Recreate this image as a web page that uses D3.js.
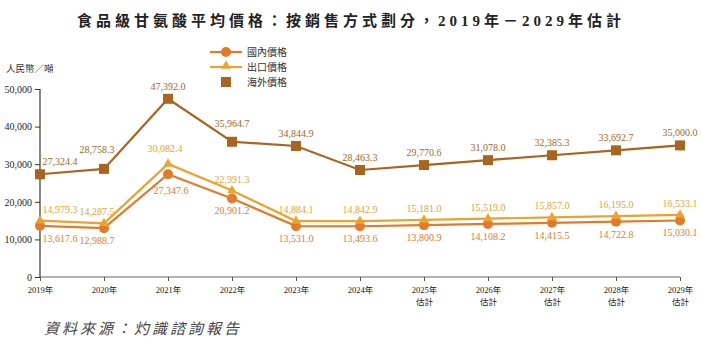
<!DOCTYPE html>
<html><head><meta charset="utf-8">
<script src="https://cdn.jsdelivr.net/npm/d3@7"></script>
<style>body{margin:0;background:#fff;}svg{display:block;}</style>
</head><body>
<script>
const years = ["2019年","2020年","2021年","2022年","2023年","2024年","2025年","2026年","2027年","2028年","2029年"];
const estimate = [false,false,false,false,false,false,true,true,true,true,true];
const domestic = [13617.6,12988.7,27347.6,20901.2,13531.0,13493.6,13800.9,14108.2,14415.5,14722.8,15030.1];
const exportP = [14979.3,14287.5,30082.4,22991.3,14884.1,14842.9,15181.0,15519.0,15857.0,16195.0,16533.1];
const overseas = [27324.4,28758.3,47392.0,35964.7,34844.9,28463.3,29770.6,31078.0,32385.3,33692.7,35000.0];
const yTicks = [0,10000,20000,30000,40000,50000];
const seriesNames = ["國內價格","出口價格","海外價格"];

const W=702,H=343;
const serif = "'Liberation Serif','Noto Sans CJK TC',serif";
const cjk = "'Noto Sans CJK TC',sans-serif";
const cDom="#E27A2A", cExp="#EBA22E", cOve="#A9651F";

const svg=d3.select("body").append("svg").attr("width",W).attr("height",H);
const x=d3.scalePoint().domain(years).range([40,680]);
const y=d3.scaleLinear().domain([0,50000]).range([277,89]);

// title
svg.append("text").attr("x",351).attr("y",26).attr("text-anchor","middle")
 .attr("font-family",serif).attr("font-weight","bold").attr("font-size",15)
 .attr("letter-spacing",4).attr("fill","#222")
 .text("食品級甘氨酸平均價格：按銷售方式劃分，2019年－2029年估計");

// unit
svg.append("text").attr("x",6).attr("y",72).attr("font-family",cjk).attr("font-size",9.5).attr("fill","#333").text("人民幣／噸");

// y axis
const yAxis=d3.axisLeft(y).tickValues(yTicks).tickSize(5).tickFormat(d3.format(","));
const ga=svg.append("g").attr("transform","translate(40,0)").call(yAxis);
ga.select(".domain").attr("stroke","#3d3530").attr("stroke-width",1.2).attr("d","M0,89V277");
ga.selectAll(".tick line").attr("stroke","#3d3530");
ga.selectAll(".tick text").attr("font-family",serif).attr("font-size",10).attr("fill","#1e1e2a").attr("x",-8);

// x axis
const xAxis=d3.axisBottom(x).tickSize(4).tickFormat("");
const gx=svg.append("g").attr("transform","translate(0,277)").call(xAxis);
gx.select(".domain").attr("stroke","#666").attr("d","M40,0H680");
gx.selectAll(".tick line").attr("stroke","#555");
gx.selectAll(".tick").each(function(d,i){
  const t=d3.select(this).append("text").attr("fill","#222").attr("font-family",serif).attr("font-size",8.5).attr("text-anchor","middle");
  t.append("tspan").attr("x",0).attr("y",16).text(d);
  if(estimate[i]) t.append("tspan").attr("x",0).attr("y",28).text("估計");
});

const line=d3.line().x((d,i)=>x(years[i])).y(d=>y(d));
function drawLine(data,color){
  svg.append("path").datum(data).attr("d",line).attr("fill","none").attr("stroke",color).attr("stroke-width",2.2);
}
drawLine(overseas,cOve);
drawLine(exportP,cExp);
drawLine(domestic,cDom);

const tri=d3.symbol().type(d3.symbolTriangle).size(40);
// markers
svg.append("g").selectAll("rect").data(overseas).join("rect")
 .attr("x",(d,i)=>x(years[i])-5).attr("y",d=>y(d)-5).attr("width",10).attr("height",10).attr("fill",cOve);
svg.append("g").selectAll("circle").data(domestic).join("circle")
 .attr("cx",(d,i)=>x(years[i])).attr("cy",d=>y(d)).attr("r",5).attr("fill",cDom);
svg.append("g").selectAll("path").data(exportP).join("path")
 .attr("d",tri).attr("transform",(d,i)=>`translate(${x(years[i])},${y(d)})`).attr("fill",cExp);

// labels
const fmt=d3.format(",.1f");
function labels(data,color,dy,extra){
  svg.append("g").selectAll("text").data(data).join("text")
   .attr("x",(d,i)=>x(years[i]) + (i===0?20:(i===1?-7:0)) + ((extra[i]||[0,0])[0]))
   .attr("y",(d,i)=>y(d)+dy+((extra[i]||[0,0])[1]))
   .attr("text-anchor","middle").attr("font-family",serif).attr("font-size",10).attr("fill",color)
   .text(d=>fmt(d));
}
labels(overseas,cOve,-9,{1:[0,-7],3:[0,-6]});
labels(exportP,cExp,-8,{2:[-3,-4]});
labels(domestic,cDom,16,{2:[3,4]});

// legend
const lg=svg.append("g");
const rows=[52,67,82];
lg.append("line").attr("x1",210).attr("x2",242).attr("y1",rows[0]).attr("y2",rows[0]).attr("stroke",cDom).attr("stroke-width",2.2);
lg.append("circle").attr("cx",226).attr("cy",rows[0]).attr("r",5).attr("fill",cDom);
lg.append("line").attr("x1",210).attr("x2",242).attr("y1",rows[1]).attr("y2",rows[1]).attr("stroke",cExp).attr("stroke-width",2.2);
lg.append("path").attr("d",tri).attr("transform",`translate(226,${rows[1]-1})`).attr("fill",cExp);
lg.append("rect").attr("x",221).attr("y",rows[2]-5).attr("width",10).attr("height",10).attr("fill",cOve);
seriesNames.forEach((n,i)=>{
  lg.append("text").attr("x",247).attr("y",rows[i]+3.5).attr("font-family",cjk).attr("font-size",10).attr("fill","#333").text(n);
});

// source
svg.append("text").attr("x",44).attr("y",334).attr("font-family",cjk).attr("font-style","italic")
 .attr("font-size",15).attr("letter-spacing",3).attr("fill","#444").text("資料來源：灼識諮詢報告");
</script>
</body></html>
